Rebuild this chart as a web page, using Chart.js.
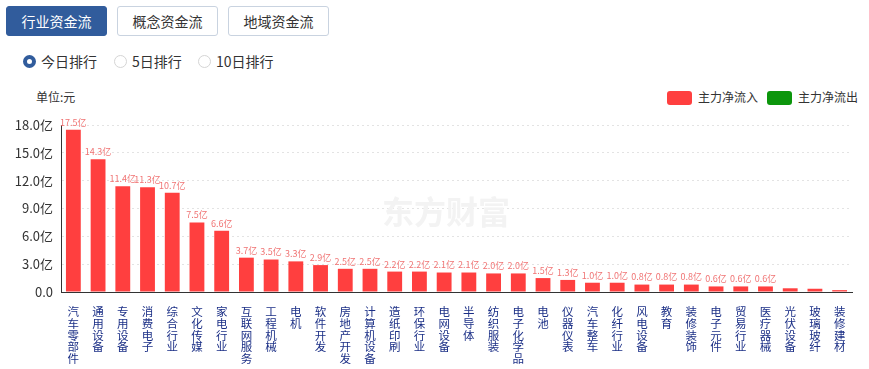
<!DOCTYPE html>
<html>
<head>
<meta charset="utf-8">
<script src="https://cdn.jsdelivr.net/npm/chart.js@4"></script>
<style>
  body { margin: 0; width: 869px; height: 369px; background: #fff; font-family: "Noto Sans CJK SC", sans-serif; position: relative; overflow: hidden; }
  .tab { position: absolute; top: 6px; width: 99px; height: 28px; border: 1px solid #c9d3e0; border-radius: 3px; font-size: 14px; line-height: 28px; text-align: center; color: #333; background: #fff; }
  .tab.on { background: #315c9c; border-color: #315c9c; color: #fff; }
  .radio { position: absolute; top: 51px; font-size: 14px; color: #333; line-height: 20px; }
  .radio i { display: inline-block; width: 11px; height: 11px; border: 1px solid #d5d5d5; border-radius: 50%; vertical-align: -1px; margin-right: 5px; }
  .radio.on i { width: 5px; height: 5px; border: 4px solid #315c9c; }
  .unit { position: absolute; left: 36px; top: 88px; font-size: 12px; color: #333; }
  .legend { position: absolute; top: 89px; font-size: 12px; color: #333; line-height: 16px; }
  .legend b { display: inline-block; width: 25px; height: 14px; border-radius: 3px; vertical-align: -3px; margin-right: 6px; }
  canvas { position: absolute; left: 0; top: 0; }
</style>
</head>
<body>
<div class="tab on" style="left:6px">行业资金流</div>
<div class="tab" style="left:117px">概念资金流</div>
<div class="tab" style="left:228px">地域资金流</div>
<div class="radio on" style="left:23px"><i></i>今日排行</div>
<div class="radio" style="left:114px"><i></i>5日排行</div>
<div class="radio" style="left:198px"><i></i>10日排行</div>
<div class="unit">单位:元</div>
<div class="legend" style="left:667px"><b style="background:#ff3f3f"></b>主力净流入</div>
<div class="legend" style="left:767px"><b style="background:#0c960c"></b>主力净流出</div>
<canvas id="chart" width="869" height="369"></canvas>
<script>
const categories = ['汽车零部件','通用设备','专用设备','消费电子','综合行业','文化传媒','家电行业','互联网服务',
  '工程机械','电机','软件开发','房地产开发','计算机设备','造纸印刷','环保行业','电网设备','半导体',
  '纺织服装','电子化学品','电池','仪器仪表','汽车整车','化纤行业','风电设备','教育','装修装饰',
  '电子元件','贸易行业','医疗器械','光伏设备','玻璃玻纤','装修建材'];
// 主力净流入, 亿元
const inflow = [17.5,14.3,11.4,11.3,10.7,7.5,6.6,3.7,3.5,3.3,2.9,2.5,2.5,2.2,2.2,2.1,2.1,
  2.0,2.0,1.5,1.3,1.0,1.0,0.8,0.8,0.8,0.6,0.6,0.6,0.4,0.35,0.2];
const barLabels = ['17.5亿','14.3亿','11.4亿','11.3亿','10.7亿','7.5亿','6.6亿','3.7亿','3.5亿','3.3亿',
  '2.9亿','2.5亿','2.5亿','2.2亿','2.2亿','2.1亿','2.1亿','2.0亿','2.0亿','1.5亿','1.3亿','1.0亿',
  '1.0亿','0.8亿','0.8亿','0.8亿','0.6亿','0.6亿','0.6亿',null,null,null];
const yTicks = [0, 3, 6, 9, 12, 15, 18];

const watermark = {
  id: 'watermark',
  beforeDatasetsDraw(chart) {
    const ctx = chart.ctx;
    ctx.save();
    ctx.fillStyle = '#f3f3f3';
    ctx.font = 'bold 32px "Noto Sans CJK SC"';
    ctx.textAlign = 'center';
    ctx.textBaseline = 'middle';
    ctx.fillText('东方财富', 446, 212);
    ctx.restore();
  }
};

const valueLabels = {
  id: 'valueLabels',
  afterDatasetsDraw(chart) {
    const ctx = chart.ctx;
    const meta = chart.getDatasetMeta(0);
    ctx.save();
    ctx.fillStyle = '#f07474';
    ctx.font = '9px "Noto Sans CJK SC"';
    ctx.textAlign = 'center';
    ctx.textBaseline = 'bottom';
    meta.data.forEach((bar, i) => {
      if (barLabels[i]) ctx.fillText(barLabels[i], bar.x, bar.y - 3);
    });
    ctx.restore();
  }
};

new Chart(document.getElementById('chart'), {
  type: 'bar',
  data: {
    labels: categories.map(c => c.split('')),
    datasets: [{
      label: '主力净流入',
      data: inflow,
      backgroundColor: '#ff3f3f',
      barPercentage: 0.6,
      categoryPercentage: 1
    }]
  },
  options: {
    responsive: false,
    animation: false,
    layout: { padding: { top: 125, right: 17, left: 0, bottom: 0 } },
    plugins: { legend: { display: false }, tooltip: { enabled: false } },
    scales: {
      x: {
        grid: { display: false },
        border: { color: '#333', width: 1 },
        afterFit(s) { s.height = 77; },
        ticks: {
          autoSkip: false, maxRotation: 0, minRotation: 0, padding: 6,
          color: '#1b2f86',
          font: { size: 11.5, family: '"Noto Sans CJK SC"', lineHeight: 1.02 }
        }
      },
      y: {
        min: 0, max: 18,
        afterFit(s) { s.width = 61; },
        afterBuildTicks(s) { s.ticks = yTicks.map(v => ({ value: v })); },
        border: { color: '#333', width: 1, dash: [2, 3] },
        grid: { color: '#e3e3e3', drawTicks: false },
        ticks: {
          padding: 8, color: '#333',
          font: { size: 13, family: '"Noto Sans CJK SC"' },
          callback: v => v === 0 ? '0.0' : v.toFixed(1) + '亿'
        }
      }
    }
  },
  plugins: [watermark, valueLabels]
});
</script>
</body>
</html>
